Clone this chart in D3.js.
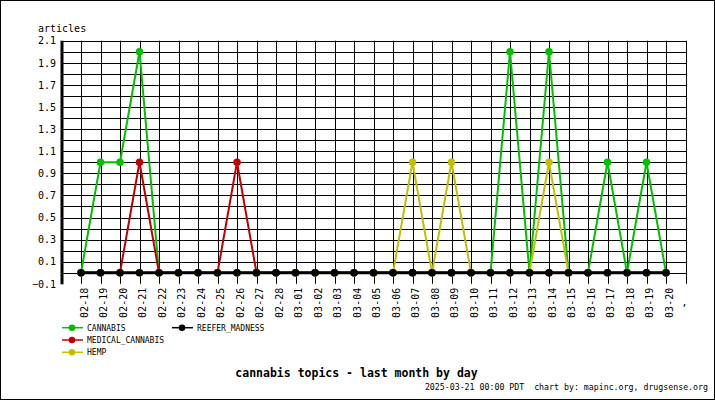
<!DOCTYPE html>
<html><head><meta charset="utf-8">
<script src="https://cdn.jsdelivr.net/npm/d3@7"></script>
<style>html,body{margin:0;padding:0;background:#fff}svg{display:block}text{font-family:"DejaVu Sans Mono",monospace;white-space:pre}</style>
</head><body>
<svg id="c" width="715" height="400"></svg>
<script>
const dates = ["02-18","02-19","02-20","02-21","02-22","02-23","02-24","02-25","02-26","02-27","02-28",
  "03-01","03-02","03-03","03-04","03-05","03-06","03-07","03-08","03-09","03-10","03-11","03-12","03-13",
  "03-14","03-15","03-16","03-17","03-18","03-19","03-20"];
const cannabis =        [0,1,1,2,0,0,0,0,0,0,0, 0,0,0,0,0,0,0,0,0,0,0,2,0,2,0,0,1,0,1,0];
const medicalCannabis = [0,0,0,1,0,0,0,0,1,0,0, 0,0,0,0,0,0,0,0,0,0,0,0,0,0,0,0,0,0,0,0];
const hemp =            [0,0,0,0,0,0,0,0,0,0,0, 0,0,0,0,0,0,1,0,1,0,0,0,0,1,0,0,0,0,0,0];
const reeferMadness =   [0,0,0,0,0,0,0,0,0,0,0, 0,0,0,0,0,0,0,0,0,0,0,0,0,0,0,0,0,0,0,0];
const seriesNames = ["CANNABIS","MEDICAL_CANNABIS","HEMP","REEFER_MADNESS"];
const seriesColors = ["#00c000","#c00000","#c0c000","#000000"];
const yTickLabels = [2.1,1.9,1.7,1.5,1.3,1.1,0.9,0.7,0.5,0.3,0.1,-0.1];
const yGrid = d3.range(0,22).map(i => +(2.1 - i*0.1).toFixed(1));
const title = "cannabis topics - last month by day";
const footer = "2025-03-21 00:00 PDT  chart by: mapinc.org, drugsense.org";

(function(){
const series = [cannabis, medicalCannabis, hemp, reeferMadness];
const svg = d3.select("#c");
svg.append("rect").attr("x",0.5).attr("y",0.5).attr("width",714).attr("height",399)
  .attr("fill","#fff").attr("stroke","#000");

const pLeft = 62, pTop = 40.7, pBottom = 283.8;
const cats = dates.concat([" "]);
const x = d3.scalePoint().domain(cats).range([81, 685.5]);
const y = d3.scaleLinear().domain([-0.1, 2.1]).range([pBottom, pTop]);

svg.append("g").selectAll("line").data(yGrid).join("line")
  .attr("x1", pLeft).attr("x2", x(" ")+0.5)
  .attr("y1", d => Math.round(y(d))+0.5).attr("y2", d => Math.round(y(d))+0.5)
  .attr("stroke","#000").attr("stroke-width",1);
svg.append("g").selectAll("line").data(cats).join("line")
  .attr("x1", d => Math.round(x(d))+0.5).attr("x2", d => Math.round(x(d))+0.5)
  .attr("y1", pTop).attr("y2", pBottom)
  .attr("stroke","#000").attr("stroke-width",1);
svg.append("line").attr("x1",pLeft).attr("x2",pLeft).attr("y1",pTop).attr("y2",pBottom+0.5)
  .attr("stroke","#000").attr("stroke-width",3);

const yAxis = d3.axisLeft(y).tickValues(yTickLabels).tickSize(0).tickPadding(6).tickFormat(d3.format(".1f"));
const ga = svg.append("g").attr("transform",`translate(${pLeft},0)`).call(yAxis);
ga.select(".domain").remove();
ga.selectAll("text").attr("font-size",10).attr("font-family","DejaVu Sans Mono").attr("fill","#000");

svg.append("text").attr("x",38).attr("y",32).attr("font-size",10).text("articles");

const xAxis = d3.axisBottom(x).tickValues(dates).tickSize(0);
const gx = svg.append("g").attr("transform",`translate(0,${pBottom})`).call(xAxis);
gx.select(".domain").remove();
gx.selectAll("text").attr("font-size",10).attr("font-family","DejaVu Sans Mono").attr("fill","#000")
  .attr("text-anchor","end").attr("dy",null).attr("y",null)
  .attr("transform","translate(6,4) rotate(-90)");
// label of the trailing blank category
svg.append("text").attr("x", x(" ") - 1).attr("y", pBottom + 22).attr("text-anchor","middle")
  .attr("font-size",10).text(",");

const line = d3.line().x((d,i) => x(dates[i])).y(d => y(d));
series.forEach((vals, si) => {
  svg.append("path").datum(vals).attr("d", line).attr("fill","none")
    .attr("stroke", seriesColors[si]).attr("stroke-width", si === 3 ? 3 : 2);
  svg.append("g").selectAll("circle").data(vals).join("circle")
    .attr("cx",(d,i) => x(dates[i])).attr("cy", d => y(d)).attr("r",3.8)
    .attr("fill", seriesColors[si]);
});

const legendPos = [[62,330.7],[62,343],[62,355.3],[172,330.7]];
seriesNames.forEach((n, i) => {
  const [lx, ly] = legendPos[i];
  const g = svg.append("g");
  g.append("line").attr("x1",lx).attr("x2",lx+21).attr("y1",ly-3).attr("y2",ly-3)
    .attr("stroke",seriesColors[i]).attr("stroke-width",1.5);
  g.append("circle").attr("cx",lx+10).attr("cy",ly-3).attr("r",3.3).attr("fill",seriesColors[i]);
  g.append("text").attr("x",lx+25).attr("y",ly).attr("font-size",8).text(n);
});

svg.append("text").attr("x",356.5).attr("y",377).attr("text-anchor","middle")
  .attr("font-size",11.5).attr("font-weight","bold").text(title);
svg.append("text").attr("x",708).attr("y",390).attr("text-anchor","end")
  .attr("font-size",8.25).text(footer);
})();
</script>
</body></html>
